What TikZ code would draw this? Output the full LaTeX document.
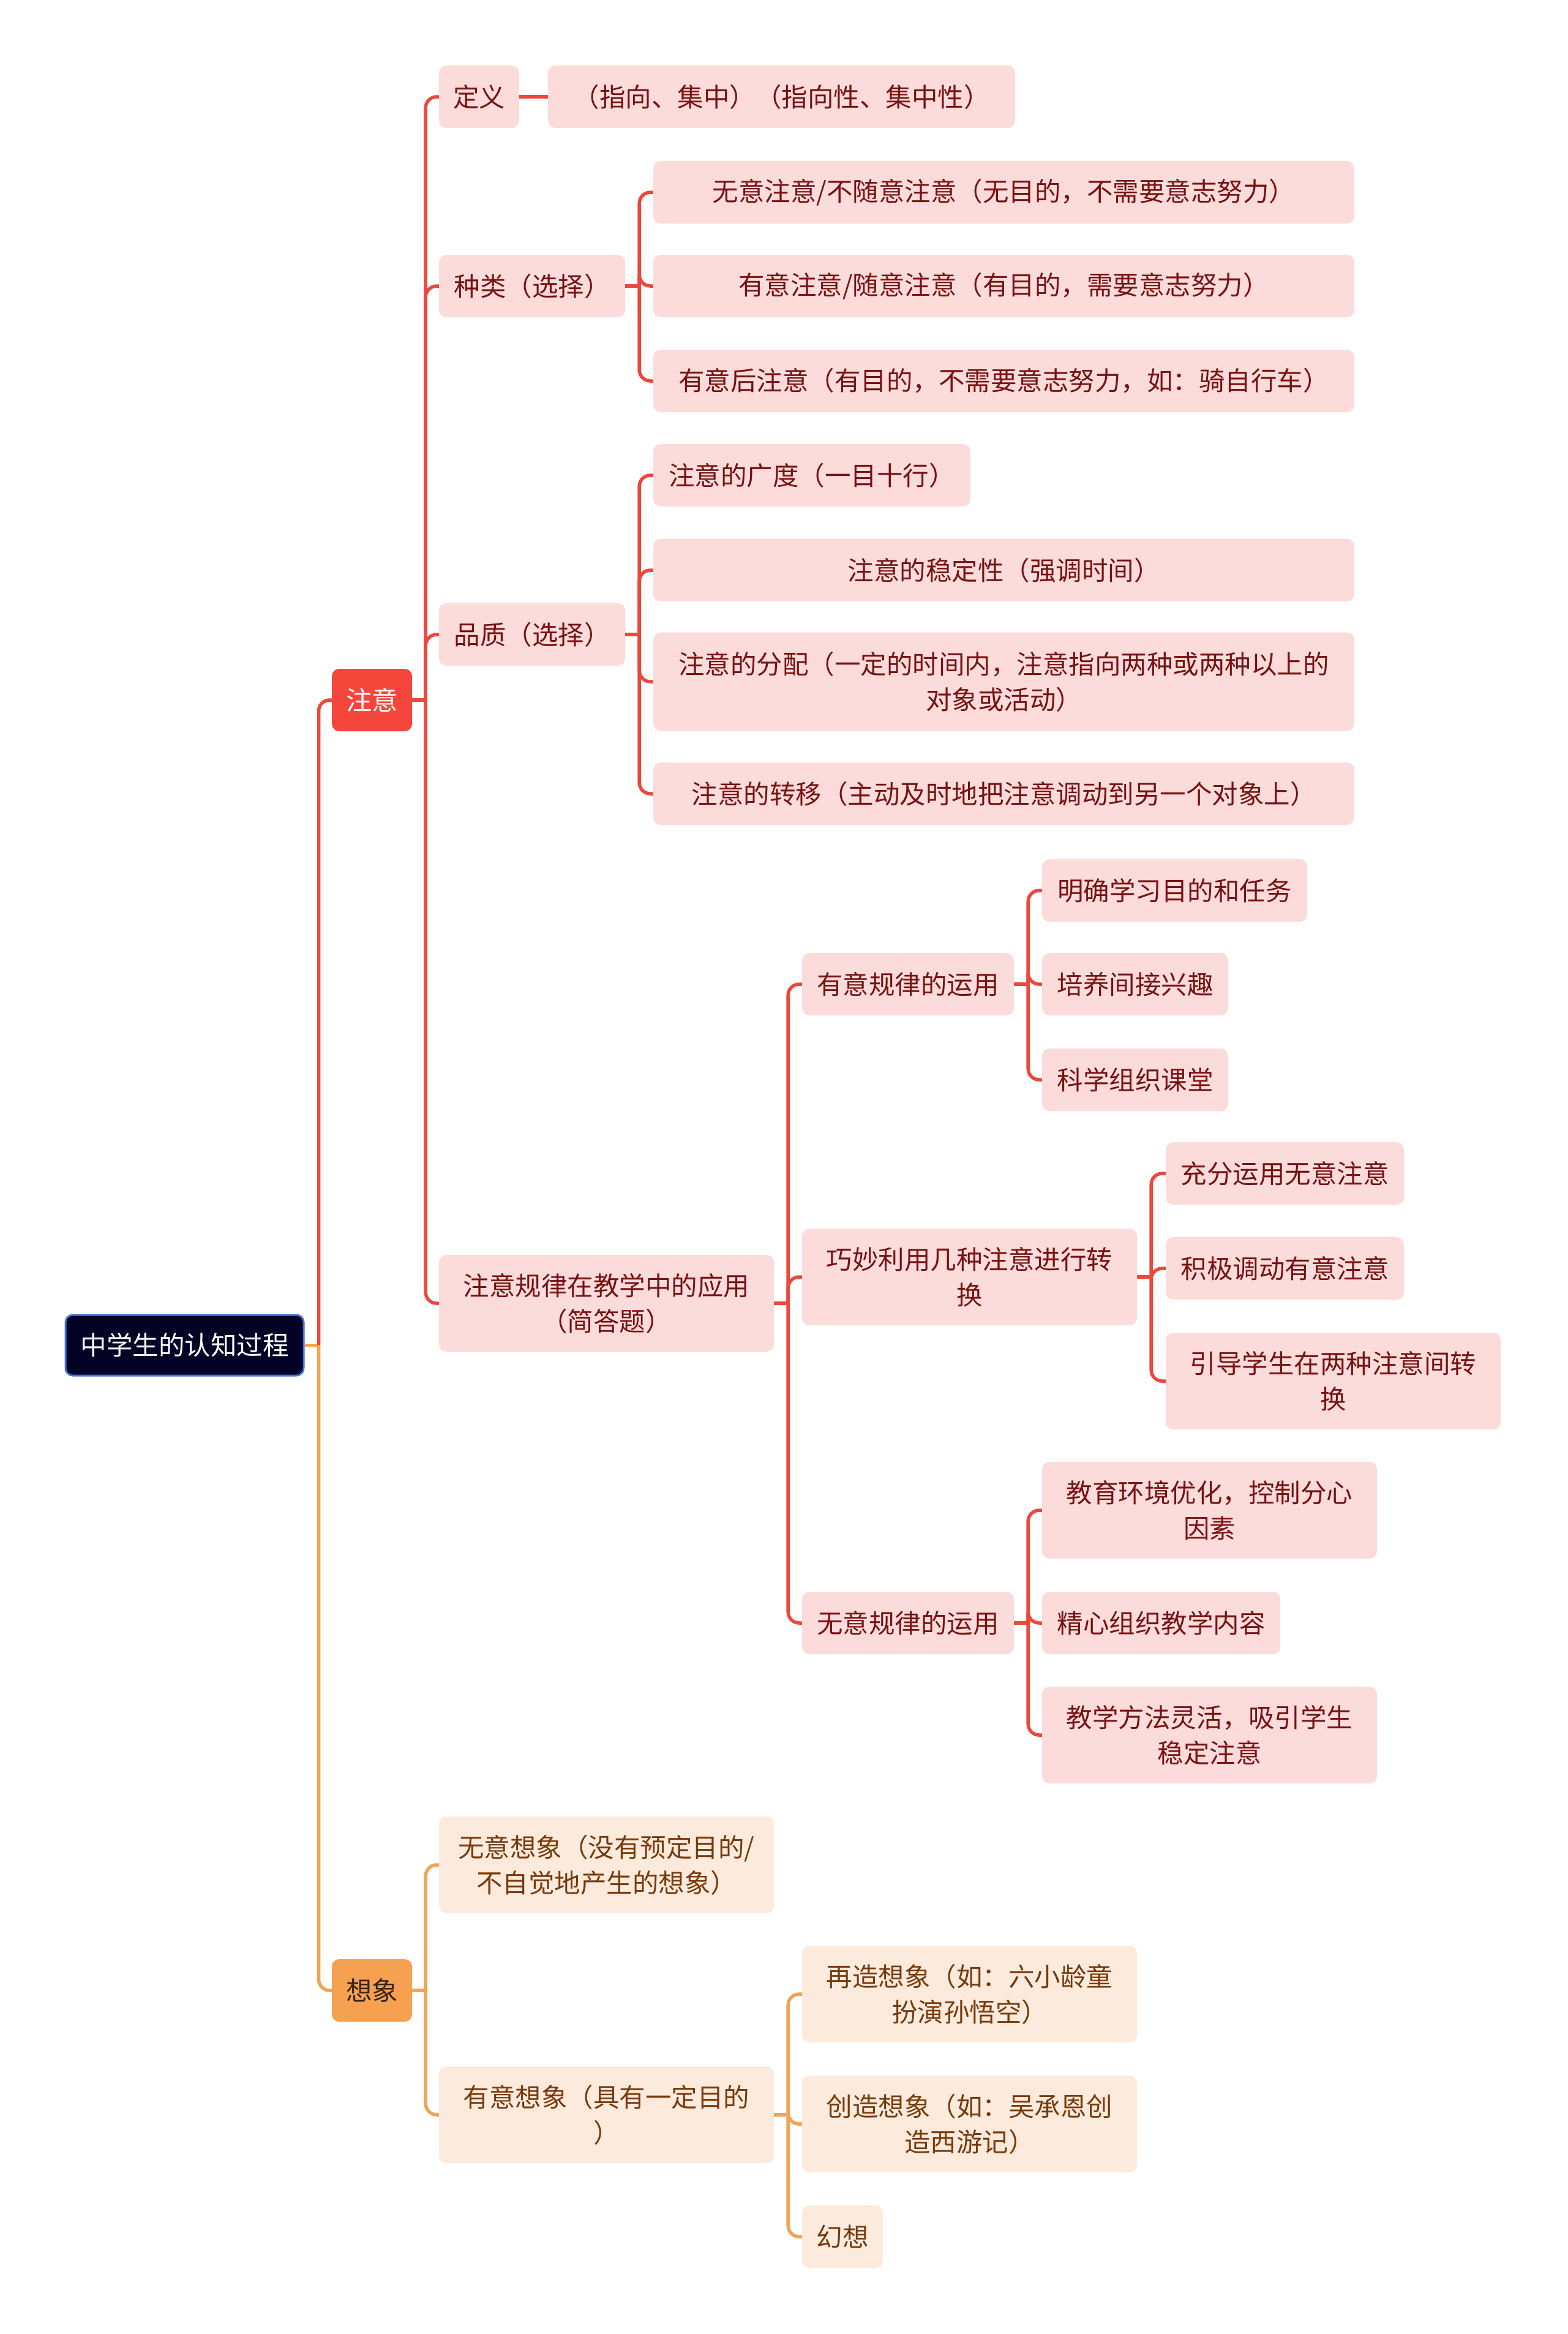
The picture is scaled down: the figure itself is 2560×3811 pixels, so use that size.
\documentclass[tikz,border=0pt]{standalone}
\usepackage{fontspec}
\setmainfont{Noto Sans CJK SC}
\usetikzlibrary{calc}
\definecolor{zyred}{RGB}{245,70,60}
\definecolor{redln}{RGB}{236,72,60}
\definecolor{pinkfill}{RGB}{252,219,219}
\definecolor{darkred}{RGB}{120,18,18}
\definecolor{xxorange}{RGB}{245,161,80}
\definecolor{orangeln}{RGB}{240,165,85}
\definecolor{creamfill}{RGB}{252,235,221}
\definecolor{browntxt}{RGB}{120,58,12}
\definecolor{xxtxt}{RGB}{55,35,20}
\definecolor{rootfill}{RGB}{3,3,38}
\definecolor{rootedge}{RGB}{65,115,215}
\newcommand\myfs{\fontsize{42.5pt}{58pt}\selectfont}
\tikzset{
  box/.style={rectangle, rounded corners=12pt, inner sep=0pt, align=center, font=\myfs},
  rootbox/.style={box, fill=rootfill, draw=rootedge, line width=3pt, text=white},
  redmain/.style={box, fill=zyred, text=white},
  orgmain/.style={box, fill=xxorange, text=xxtxt},
  pk/.style={box, fill=pinkfill, text=darkred},
  cr/.style={box, fill=creamfill, text=browntxt},
  rl/.style={draw=redln, line width=5.5pt, rounded corners=18pt},
  ol/.style={draw=orangeln, line width=5.5pt, rounded corners=18pt},
}
\begin{document}
\begin{tikzpicture}[x=1pt,y=-1pt]
\useasboundingbox (0,0) rectangle (2560,3811);
% root and main branches
\node[rootbox, minimum width=389, minimum height=99] (root) at (301.5,2196.5) {中学生的认知过程};
\node[redmain, minimum width=131, minimum height=102] (zy) at (607.5,1143) {注意};
\node[orgmain, minimum width=131, minimum height=102] (xx) at (607.5,3250) {想象};
% level 2 under 注意
\node[pk, minimum width=131, minimum height=102] (dy) at (782.5,158) {定义};
\node[pk, minimum width=763, minimum height=102] (dyc) at (1276.5,158) {（指向、集中）（指向性、集中性）};
\node[pk, minimum width=304, minimum height=102] (zl) at (869,467) {种类（选择）};
\node[pk, minimum width=1145, minimum height=102] (zl1) at (1639.5,314) {无意注意/不随意注意（无目的，不需要意志努力）};
\node[pk, minimum width=1145, minimum height=102] (zl2) at (1639.5,467) {有意注意/随意注意（有目的，需要意志努力）};
\node[pk, minimum width=1145, minimum height=102] (zl3) at (1639.5,622) {有意后注意（有目的，不需要意志努力，如：骑自行车）};
\node[pk, minimum width=304, minimum height=102] (pz) at (869,1036) {品质（选择）};
\node[pk, minimum width=518, minimum height=102] (pz1) at (1326,776) {注意的广度（一目十行）};
\node[pk, minimum width=1145, minimum height=102] (pz2) at (1639.5,931) {注意的稳定性（强调时间）};
\node[pk, minimum width=1145, minimum height=161] (pz3) at (1639.5,1113) {注意的分配（一定的时间内，注意指向两种或两种以上的\\对象或活动）};
\node[pk, minimum width=1145, minimum height=102] (pz4) at (1639.5,1296) {注意的转移（主动及时地把注意调动到另一个对象上）};
\node[pk, minimum width=547, minimum height=158] (gl) at (990.5,2128) {注意规律在教学中的应用\\（简答题）};
\node[pk, minimum width=346, minimum height=102] (yy) at (1483,1607) {有意规律的运用};
\node[pk, minimum width=433, minimum height=102] (yy1) at (1918.5,1454) {明确学习目的和任务};
\node[pk, minimum width=304, minimum height=102] (yy2) at (1854,1607) {培养间接兴趣};
\node[pk, minimum width=304, minimum height=102] (yy3) at (1854,1763) {科学组织课堂};
\node[pk, minimum width=547, minimum height=158] (qm) at (1583.5,2085) {巧妙利用几种注意进行转\\换};
\node[pk, minimum width=389, minimum height=102] (qm1) at (2098.5,1916) {充分运用无意注意};
\node[pk, minimum width=389, minimum height=102] (qm2) at (2098.5,2071) {积极调动有意注意};
\node[pk, minimum width=547, minimum height=158] (qm3) at (2177.5,2255) {引导学生在两种注意间转\\换};
\node[pk, minimum width=346, minimum height=102] (wy) at (1483,2650) {无意规律的运用};
\node[pk, minimum width=547, minimum height=158] (wy1) at (1975.5,2466) {教育环境优化，控制分心\\因素};
\node[pk, minimum width=389, minimum height=102] (wy2) at (1896.5,2650) {精心组织教学内容};
\node[pk, minimum width=547, minimum height=158] (wy3) at (1975.5,2833) {教学方法灵活，吸引学生\\稳定注意};
% level 2 under 想象
\node[cr, minimum width=547, minimum height=158] (wx) at (990.5,3045) {无意想象（没有预定目的/\\不自觉地产生的想象）};
\node[cr, minimum width=547, minimum height=158] (yx) at (990.5,3453) {有意想象（具有一定目的\\）};
\node[cr, minimum width=547, minimum height=158] (yx1) at (1583.5,3256) {再造想象（如：六小龄童\\扮演孙悟空）};
\node[cr, minimum width=547, minimum height=158] (yx2) at (1583.5,3468) {创造想象（如：吴承恩创\\造西游记）};
\node[cr, minimum width=132, minimum height=102] (yx3) at (1376,3652) {幻想};
% connectors: root
\draw[ol] (root.east) -- ++(23,0);
\draw[rl] ($(root.east)+(23,0)$) |- (zy.west);
\draw[ol] ($(root.east)+(23,0)$) |- (xx.west);
% 注意
\draw[rl] (zy.east) -- ++(22,0);
\foreach \c in {dy,zl,pz,gl} \draw[rl] ($(zy.east)+(22,0)$) |- (\c.west);
\draw[rl] (dy.east) -- (dyc.west);
% 种类
\draw[rl] (zl.east) -- ++(23,0);
\foreach \c in {zl1,zl2,zl3} \draw[rl] ($(zl.east)+(23,0)$) |- (\c.west);
% 品质
\draw[rl] (pz.east) -- ++(23,0);
\foreach \c in {pz1,pz2,pz3,pz4} \draw[rl] ($(pz.east)+(23,0)$) |- (\c.west);
% 注意规律
\draw[rl] (gl.east) -- ++(23,0);
\foreach \c in {yy,qm,wy} \draw[rl] ($(gl.east)+(23,0)$) |- (\c.west);
\draw[rl] (yy.east) -- ++(23,0);
\foreach \c in {yy1,yy2,yy3} \draw[rl] ($(yy.east)+(23,0)$) |- (\c.west);
\draw[rl] (qm.east) -- ++(23,0);
\foreach \c in {qm1,qm2,qm3} \draw[rl] ($(qm.east)+(23,0)$) |- (\c.west);
\draw[rl] (wy.east) -- ++(23,0);
\foreach \c in {wy1,wy2,wy3} \draw[rl] ($(wy.east)+(23,0)$) |- (\c.west);
% 想象
\draw[ol] (xx.east) -- ++(22,0);
\foreach \c in {wx,yx} \draw[ol] ($(xx.east)+(22,0)$) |- (\c.west);
\draw[ol] (yx.east) -- ++(23,0);
\foreach \c in {yx1,yx2,yx3} \draw[ol] ($(yx.east)+(23,0)$) |- (\c.west);
\end{tikzpicture}
\end{document}
